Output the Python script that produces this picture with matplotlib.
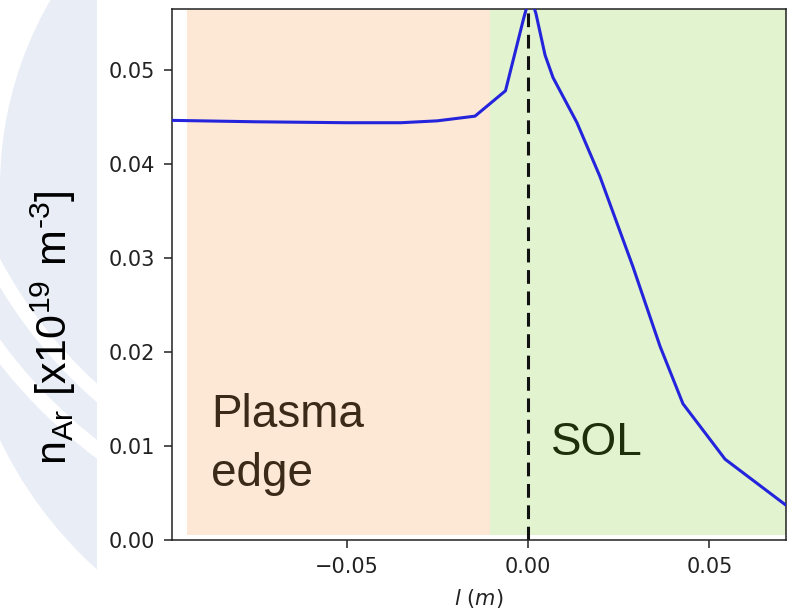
import matplotlib
matplotlib.use("Agg")
import matplotlib.pyplot as plt
from matplotlib.patches import Circle, Wedge, Rectangle

# Ar density profile across the separatrix (l = 0)
l_pos = [-0.0981, -0.075, -0.050, -0.035, -0.025, -0.0146, -0.0062, -0.0012,
         0.0006, 0.0022, 0.0047, 0.0069, 0.0135, 0.0198, 0.0289, 0.0364,
         0.0427, 0.0543, 0.0711]
n_ar = [0.04465, 0.0445, 0.0444, 0.0444, 0.0446, 0.0451, 0.0478, 0.0555,
        0.0580, 0.0560, 0.0516, 0.0492, 0.0444, 0.0387, 0.0291, 0.0206,
        0.0145, 0.0086, 0.0037]

# shaded regions
edge_span = [-0.0939, -0.0105]
sol_span = [-0.0105, 0.0711]
separatrix = 0.0

xticks = [-0.05, 0.0, 0.05]
yticks = [0.0, 0.01, 0.02, 0.03, 0.04, 0.05]

W, H = 788, 612
fig = plt.figure(figsize=(W / 100, H / 100), dpi=100)
fig.patch.set_facecolor("white")

# faint slide watermark on the left strip
bg = fig.add_axes([0, 0, 1, 1], zorder=-5)
bg.set_xlim(0, W)
bg.set_ylim(H, 0)
bg.axis("off")
strip = Rectangle((0, 0), 97, H, transform=bg.transData, visible=False)
bg.add_patch(strip)
wm = "#e9edf6"
shapes = [
    Circle((375, 260), 416, color=wm, lw=0),
    Wedge((372, 187), 600, 180, 270, width=228, color="white", lw=0),
    Wedge((408, 42), 476, 0, 360, width=14, color="white", lw=0),
    Wedge((408, 42), 520, 0, 360, width=15, color="white", lw=0),
]
for p in shapes:
    bg.add_patch(p)
    p.set_clip_path(strip)

ax = fig.add_axes([172 / W, 1 - 540 / H, (786 - 172) / W, (540 - 9) / H])
ax.set_facecolor("white")

ax.fill_between(edge_span, 0.0005, 0.06, color="#fde8d6", lw=0, zorder=1)
ax.fill_between(sol_span, 0.0005, 0.06, color="#e2f3d0", lw=0, zorder=1)
ax.axvline(separatrix, color="#111111", lw=2.2, dashes=[4.5, 2.5], zorder=2)
ax.plot(l_pos, n_ar, color="#2424dc", lw=2.2, zorder=3)

ax.set_xlim(-0.0981, 0.0711)
ax.set_ylim(0, 0.0565)
ax.set_xticks(xticks)
ax.set_yticks(yticks)
ax.tick_params(labelsize=15, length=6, width=1.1, pad=6.5, colors="#222222")
for s in ax.spines.values():
    s.set_linewidth(1.1)
    s.set_color("#222222")

ax.set_xlabel(r"$l\ (m)$", fontsize=15, color="#222222", labelpad=7)

ax.text(0.0635, 0.102, "Plasma\nedge", transform=ax.transAxes,
        fontfamily="Liberation Sans", fontsize=33, color="#3b2a17",
        ha="left", va="baseline", linespacing=1.44)
ax.text(0.618, 0.160, "SOL", transform=ax.transAxes,
        fontfamily="Liberation Sans", fontsize=33, color="#1e2f0b",
        ha="left", va="baseline")

fig.text(53 / W, 1 - 328 / H,
         "$\\mathregular{n_{Ar}\\ [x10^{19}\\ m^{\u20103}]}$",
         fontfamily="Liberation Sans", fontsize=31, rotation=90,
         ha="center", va="center", color="black")

fig.savefig("out.png", dpi=100, facecolor="white")
